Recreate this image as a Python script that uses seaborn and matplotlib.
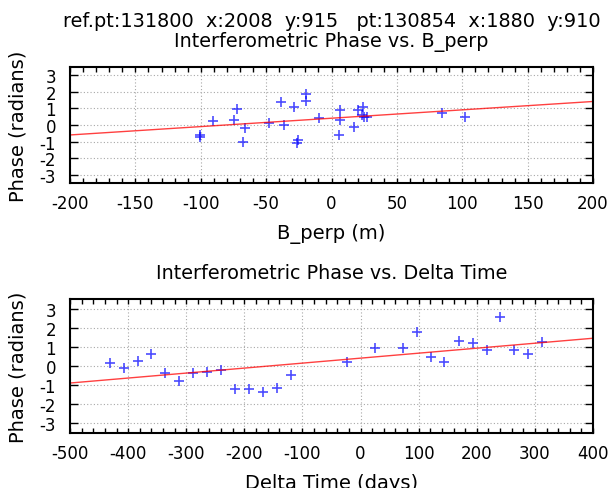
import matplotlib
matplotlib.use("Agg")
import matplotlib.pyplot as plt
import seaborn as sns
import pandas as pd
from matplotlib.ticker import MultipleLocator

# values
bperp = [-100.7, -100.5, -90.5, -72.0, -74.6, -65.8, -67.6, -48.0, -38.4, -36.2, -28.7,
         -26.0, -26.3, -19.3, -19.6, -9.4, 6.2, 6.7, 5.6, 16.9, 20.1, 24.4, 23.3, 27.0,
         25.0, 84.6, 102.0]
phase_b = [-0.6, -0.7, 0.24, 0.95, 0.3, -0.2, -1.0, 0.12, 1.37, -0.02, 1.11,
           -0.91, -1.07, 1.9, 1.47, 0.4, 0.93, 0.32, -0.59, -0.1, 0.93, 1.07, 0.6, 0.48,
           0.48, 0.7, 0.5]
fit_b_x = [-200, 200]
fit_b_y = [-0.6, 1.42]

dtime = [-430.6, -407.6, -382.9, -359.9, -335.7, -311.6, -288.6, -263.9, -240.3, -216.2,
         -192.0, -167.9, -144.3, -119.6, -23.0, 25.4, 73.7, 96.6, 120.8, 144.3, 169.1,
         193.2, 217.4, 240.3, 264.5, 288.6, 312.8]
phase_t = [0.16, -0.12, 0.26, 0.64, -0.38, -0.81, -0.38, -0.33, -0.22, -1.19,
           -1.19, -1.38, -1.16, -0.47, 0.19, 0.92, 0.92, 1.75, 0.45, 0.19, 1.31,
           1.18, 0.83, 2.56, 0.85, 0.62, 1.26]
fit_t_x = [-500, 400]
fit_t_y = [-0.89, 1.45]

suptitle = "ref.pt:131800  x:2008  y:915   pt:130854  x:1880  y:910"

sns.set_style("ticks")
plt.rcParams["font.family"] = ["DejaVu Sans"]
plt.rcParams["axes.unicode_minus"] = False
plt.rcParams["text.color"] = "black"
plt.rcParams["axes.labelcolor"] = "black"
plt.rcParams["xtick.color"] = "black"
plt.rcParams["ytick.color"] = "black"

fig = plt.figure(figsize=(6.12, 4.89), dpi=100)
ax1 = fig.add_axes([0.1144, 0.6237, 0.8546, 0.2372])
ax2 = fig.add_axes([0.1144, 0.1125, 0.8546, 0.274])

df_b = pd.DataFrame({"x": bperp, "y": phase_b})
df_t = pd.DataFrame({"x": dtime, "y": phase_t})

panels = [
    (ax1, df_b, fit_b_x, fit_b_y, (-200, 200), 50, 10, "B_perp (m)", "Interferometric Phase vs. B_perp"),
    (ax2, df_t, fit_t_x, fit_t_y, (-500, 400), 100, 20, "Delta Time (days)", "Interferometric Phase vs. Delta Time"),
]

for ax, df, fx, fy, xlim, major, minor, xlabel, title in panels:
    sns.lineplot(x=fx, y=fy, ax=ax, color="red", lw=1.0, alpha=0.75)
    sns.scatterplot(data=df, x="x", y="y", ax=ax, marker="+", s=55, color="blue",
                    linewidth=1.2, alpha=0.7)
    ax.set_xlim(*xlim)
    ax.set_ylim(-3.5, 3.5)
    ax.xaxis.set_major_locator(MultipleLocator(major))
    ax.xaxis.set_minor_locator(MultipleLocator(minor))
    ax.yaxis.set_major_locator(MultipleLocator(1))
    ax.grid(True, which="major", color="#a8a8a8", linestyle=(0, (1, 2)), linewidth=0.8)
    ax.tick_params(axis="x", which="both", direction="in", top=True, length=3.5, width=1.0,
                   labelsize=12, pad=8)
    ax.tick_params(axis="y", which="both", direction="in", right=True, length=6, width=1.0,
                   labelsize=12, pad=10)
    for s in ax.spines.values():
        s.set_linewidth(1.5)
        s.set_color("black")
    ax.set_xlabel(xlabel, fontsize=14, labelpad=8)
    ax.set_ylabel("Phase (radians)", fontsize=14, labelpad=9)
    ax.set_title(title, fontsize=13.8, pad=15)

fig.text(331.5 / 612, 1 - 27 / 489, suptitle, ha="center", va="baseline", fontsize=13.9)

fig.savefig("out.png", dpi=100)
